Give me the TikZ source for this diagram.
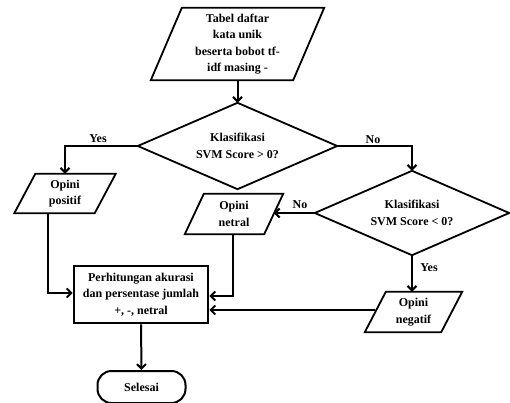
\documentclass[tikz,border=0pt]{standalone}
\usepackage{fontspec}
\setmainfont{Liberation Serif}
\usetikzlibrary{arrows.meta,calc}
\tikzset{
  txt/.style={align=center,inner sep=0pt,font=\fontsize{12}{16.4}\selectfont\bfseries},
  hold/.style={txt,draw=none},
  fl/.style={line width=1.8pt,line join=miter},
  arr/.style={line width=2pt,-{Straight Barb[length=4.5pt,width=9pt,line width=2pt]}},
  procbox/.style={txt,draw,line width=2.8pt},
  termbox/.style={txt,draw,line width=2pt,rounded corners=14pt},
  lbl/.style={inner sep=0pt,font=\fontsize{12}{14}\selectfont\bfseries}
}
\newcommand\paradraw[2]{\draw[fl] ([xshift=#2]#1.north west) -- ([xshift=#2]#1.north east) -- ([xshift=-#2]#1.south east) -- ([xshift=-#2]#1.south west) -- cycle;}
\newcommand\diadraw[1]{\draw[fl] (#1.north) -- (#1.east) -- (#1.south) -- (#1.west) -- cycle;}
\begin{document}
\begin{tikzpicture}[x=1pt,y=-1pt]
\useasboundingbox (0,0) rectangle (510,403);
% nodes
\node[hold,minimum width=142pt,minimum height=72pt] (top) at (237.5,44) {Tabel daftar\\kata unik\\beserta bobot tf-\\idf masing -};
\paradraw{top}{15.5pt}
\node[hold,minimum width=199pt,minimum height=86pt] (d1) at (237.5,146) {Klasifikasi\\SVM Score > 0?};
\diadraw{d1}
\node[hold,minimum width=80pt,minimum height=39pt] (pos) at (65,193.5) {Opini\\positif};
\paradraw{pos}{10.5pt}
\node[hold,minimum width=79pt,minimum height=40pt] (net) at (234,214) {Opini\\netral};
\paradraw{net}{9.5pt}
\node[hold,minimum width=194pt,minimum height=84pt] (d2) at (412,213) {Klasifikasi\\SVM Score < 0?};
\diadraw{d2}
\node[hold,minimum width=76pt,minimum height=40pt] (neg) at (413.5,312) {Opini\\negatif};
\paradraw{neg}{10.5pt}
\node[procbox,minimum width=134pt,minimum height=57pt] (box) at (141,294.5) {Perhitungan akurasi\\dan persentase jumlah\\+, -, netral};
\node[termbox,minimum width=88pt,minimum height=32pt] (sel) at (141.5,387) {Selesai};
% labels
\node[lbl] (yes1) at (98,139) {Yes};
\node[lbl] (no1) at (373,140) {No};
\node[lbl] (no2) at (300,205) {No};
\node[lbl] (yes2) at (429,268) {Yes};
% connectors
\draw[arr] (top.south) -- (d1.north);
\draw[arr] (d1.west) -| (pos.north);
\draw[arr] (d1.east) -| (d2.north);
\draw[arr] (d2.west) -- (d2.west -| net.east);
\draw[arr] (d2.south) -- (d2.south |- neg.north);
\draw[arr] ([xshift=-17pt]pos.south) |- ([yshift=1.5pt]box.west);
\draw[arr] ([xshift=-1pt]net.south) |- ([yshift=-1.5pt]box.east);
\draw[arr] ([yshift=2pt]neg.west) -- ([yshift=2pt]neg.west -| box.east);
\draw[arr] (box.south) -- (sel.north);
\end{tikzpicture}
\end{document}
